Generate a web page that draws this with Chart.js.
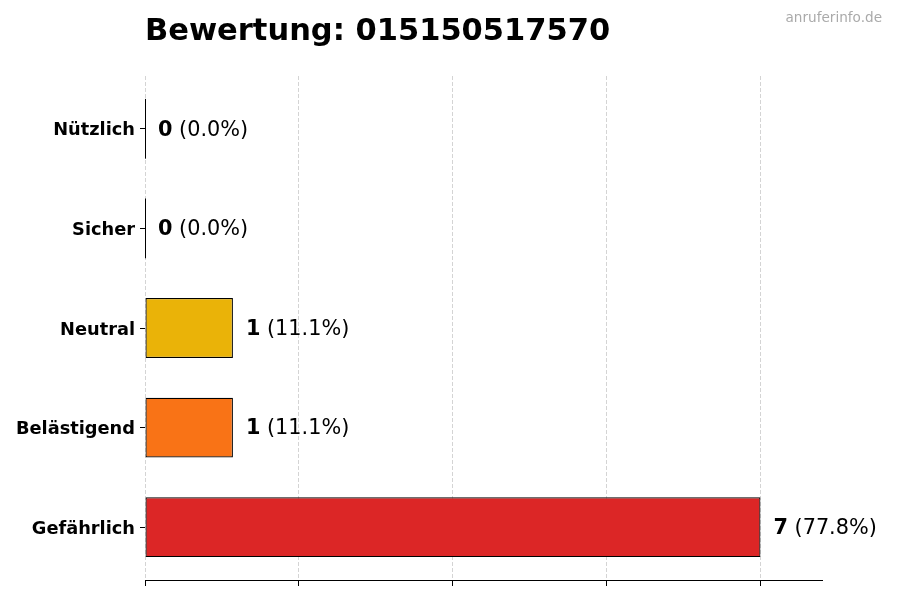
<!DOCTYPE html>
<html>
<head>
<meta charset="utf-8">
<title>Bewertung</title>
<script src="https://cdn.jsdelivr.net/npm/chart.js@4.4.1/dist/chart.umd.min.js"></script>
<style>
  html, body { margin: 0; padding: 0; background: #fff; }
  #wrap { width: 900px; height: 600px; position: relative; }
</style>
</head>
<body>
<div id="wrap"><canvas id="chart"></canvas></div>
<script>
// Daten
var categories = ['Nützlich', 'Sicher', 'Neutral', 'Belästigend', 'Gefährlich'];
var counts = [0, 0, 1, 1, 7];
var barColors = ['#16A34A', '#2563EB', '#EAB308', '#F97316', '#DC2626'];
var xTicks = [0, 1.75, 3.5, 5.25, 7];
var xMax = 7.7;
var titleText = 'Bewertung: 015150517570';
var watermark = 'anruferinfo.de';

var FONT = "'DejaVu Sans', sans-serif";
var total = counts.reduce(function (a, b) { return a + b; }, 0);

/* Titel, Wasserzeichen, Wertbeschriftungen */
var labelPlugin = {
  id: 'labels',
  afterDatasetsDraw: function (chart) {
    var ctx = chart.ctx;
    var meta = chart.getDatasetMeta(0);
    ctx.save();
    meta.data.forEach(function (bar, i) {
      var v = counts[i];
      // Balken mit Wert 0 als Linie zeigen
      if (v === 0) {
        ctx.strokeStyle = '#000';
        ctx.lineWidth = 1;
        ctx.beginPath();
        ctx.moveTo(Math.round(bar.x) + 0.5, bar.y - bar.height / 2);
        ctx.lineTo(Math.round(bar.x) + 0.5, bar.y + bar.height / 2);
        ctx.stroke();
      }
      var x = bar.x + 13;
      var base = bar.y + 6.8;
      ctx.textBaseline = 'alphabetic';
      ctx.textAlign = 'left';
      ctx.fillStyle = '#000';
      ctx.font = 'bold 20.8px ' + FONT;
      var num = String(v);
      ctx.fillText(num, x, base);
      var w = ctx.measureText(num).width;
      ctx.font = '20.8px ' + FONT;
      var pct = total ? (v / total * 100).toFixed(1) : '0.0';
      ctx.fillText(' (' + pct + '%)', x + w, base);
    });
    ctx.restore();
  },
  afterDraw: function (chart) {
    var ctx = chart.ctx;
    ctx.save();
    ctx.fillStyle = '#000';
    ctx.textAlign = 'left';
    ctx.textBaseline = 'alphabetic';
    ctx.font = 'bold 30.5px ' + FONT;
    ctx.fillText(titleText, chart.chartArea.left, 40);
    ctx.fillStyle = '#aaaaaa';
    ctx.textAlign = 'right';
    ctx.font = '13.6px ' + FONT;
    ctx.fillText(watermark, 882, 22);
    ctx.restore();
  }
};

var ctx = document.getElementById('chart');
var myChart = new Chart(ctx, {
  type: 'bar',
  data: {
    datasets: [{
      data: counts.map(function (v, i) { return { x: v, y: i }; }),
      backgroundColor: barColors,
      borderColor: '#000',
      borderWidth: 1.2,
      borderSkipped: false,
      barPercentage: 0.6,
      categoryPercentage: 1.0
    }]
  },
  options: {
    indexAxis: 'y',
    responsive: true,
    maintainAspectRatio: false,
    animation: false,
    layout: { padding: { top: 76, right: 78, left: 0, bottom: 0 } },
    plugins: {
      legend: { display: false },
      title: { display: false },
      tooltip: { enabled: false }
    },
    scales: {
      x: {
        type: 'linear',
        min: 0,
        max: xMax,
        z: 1,
        afterBuildTicks: function (scale) {
          scale.ticks = xTicks.map(function (v) { return { value: v }; });
        },
        afterFit: function (scale) { scale.height = 20; },
        ticks: { display: false },
        grid: {
          color: 'rgba(0,0,0,0.17)',
          lineWidth: 1,
          drawTicks: true,
          tickLength: 6,
          tickColor: '#000',
          tickBorderDash: [],
          tickWidth: 1
        },
        border: { display: true, color: '#000', width: 1, dash: [4, 2] }
      },
      y: {
        type: 'linear',
        reverse: true,
        offset: false,
        min: -0.53,
        max: categories.length - 1 + 0.53,
        afterBuildTicks: function (scale) {
          scale.ticks = categories.map(function (c, i) { return { value: i }; });
        },
        afterFit: function (scale) { scale.width = 145; },
        ticks: {
          color: '#000',
          padding: 5,
          labelOffset: 2,
          font: { family: FONT, size: 17.8, weight: 'bold' },
          callback: function (value) { return categories[value]; }
        },
        grid: {
          offset: false,
          drawOnChartArea: false,
          drawTicks: true,
          tickLength: 5,
          tickColor: '#000',
          tickWidth: 1
        },
        border: { display: false }
      }
    }
  },
  plugins: [labelPlugin]
});
</script>
</body>
</html>
